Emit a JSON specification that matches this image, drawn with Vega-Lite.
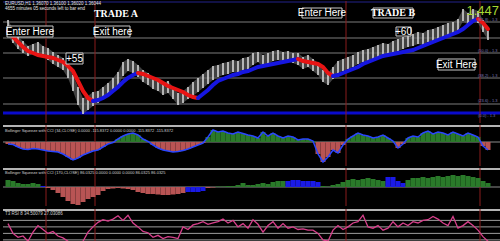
{
"$schema": "https://vega.github.io/schema/vega-lite/v6.json",
"background": "#000000",
"padding": 0,
"spacing": 0,
"config": {"view": {"stroke": null}, "concat": {"spacing": 0}},
"resolve": {"scale": {"color": "independent"}},
"datasets": {
"bars": [
{"t":0,"h":1.4385,"l":1.4305,"c":-20,"q":70,"s":"g","r":65},
{"t":1,"h":1.4340,"l":1.4270,"c":-25,"q":60,"s":"g","r":50},
{"t":2,"h":1.4300,"l":1.4240,"c":-50,"q":40,"s":"g","r":44},
{"t":3,"h":1.4280,"l":1.4220,"c":-70,"q":30,"s":"g","r":46},
{"t":4,"h":1.4255,"l":1.4205,"c":-75,"q":30,"s":"g","r":38},
{"t":5,"h":1.4265,"l":1.4215,"c":-65,"q":40,"s":"g","r":52},
{"t":6,"h":1.4275,"l":1.4215,"c":-70,"q":30,"s":"g","r":62},
{"t":7,"h":1.4255,"l":1.4205,"c":-80,"q":10,"s":"b","r":56},
{"t":8,"h":1.4245,"l":1.4185,"c":-90,"q":-10,"s":"r","r":50},
{"t":9,"h":1.4225,"l":1.4165,"c":-95,"q":-30,"s":"r","r":53},
{"t":10,"h":1.4210,"l":1.4150,"c":-100,"q":-60,"s":"r","r":46},
{"t":11,"h":1.4195,"l":1.4135,"c":-120,"q":-100,"s":"r","r":43},
{"t":12,"h":1.4165,"l":1.4095,"c":-150,"q":-140,"s":"r","r":38},
{"t":13,"h":1.4110,"l":1.4030,"c":-180,"q":-170,"s":"r","r":31},
{"t":14,"h":1.4050,"l":1.3960,"c":-160,"q":-180,"s":"r","r":27},
{"t":15,"h":1.3995,"l":1.3915,"c":-130,"q":-150,"s":"r","r":38},
{"t":16,"h":1.4005,"l":1.3935,"c":-110,"q":-120,"s":"r","r":52},
{"t":17,"h":1.4025,"l":1.3955,"c":-90,"q":-100,"s":"r","r":60},
{"t":18,"h":1.4030,"l":1.3970,"c":-80,"q":-80,"s":"r","r":67},
{"t":19,"h":1.4050,"l":1.3990,"c":-50,"q":-40,"s":"r","r":71},
{"t":20,"h":1.4070,"l":1.4010,"c":-20,"q":-20,"s":"r","r":69},
{"t":21,"h":1.4095,"l":1.4035,"c":-5,"q":-15,"s":"r","r":72},
{"t":22,"h":1.4125,"l":1.4055,"c":30,"q":-10,"s":"r","r":77},
{"t":23,"h":1.4175,"l":1.4105,"c":60,"q":-15,"s":"r","r":70},
{"t":24,"h":1.4190,"l":1.4130,"c":80,"q":-20,"s":"r","r":78},
{"t":25,"h":1.4180,"l":1.4120,"c":90,"q":-30,"s":"r","r":66},
{"t":26,"h":1.4160,"l":1.4100,"c":70,"q":-50,"s":"r","r":60},
{"t":27,"h":1.4135,"l":1.4075,"c":30,"q":-60,"s":"r","r":53},
{"t":28,"h":1.4120,"l":1.4060,"c":5,"q":-70,"s":"r","r":51},
{"t":29,"h":1.4100,"l":1.4040,"c":-30,"q":-70,"s":"r","r":44},
{"t":30,"h":1.4090,"l":1.4030,"c":-60,"q":-75,"s":"r","r":47},
{"t":31,"h":1.4070,"l":1.4010,"c":-80,"q":-80,"s":"r","r":42},
{"t":32,"h":1.4080,"l":1.4020,"c":-90,"q":-80,"s":"r","r":45},
{"t":33,"h":1.4050,"l":1.3990,"c":-100,"q":-75,"s":"r","r":44},
{"t":34,"h":1.4020,"l":1.3960,"c":-95,"q":-70,"s":"r","r":42},
{"t":35,"h":1.4030,"l":1.3970,"c":-85,"q":-60,"s":"r","r":60},
{"t":36,"h":1.4050,"l":1.3990,"c":-70,"q":-50,"s":"b","r":56},
{"t":37,"h":1.4075,"l":1.4005,"c":-50,"q":-50,"s":"b","r":63},
{"t":38,"h":1.4095,"l":1.4025,"c":-30,"q":-50,"s":"b","r":65},
{"t":39,"h":1.4115,"l":1.4045,"c":-10,"q":-40,"s":"b","r":68},
{"t":40,"h":1.4135,"l":1.4065,"c":50,"q":-10,"s":"r","r":64},
{"t":41,"h":1.4155,"l":1.4085,"c":120,"q":-5,"s":"r","r":66},
{"t":42,"h":1.4160,"l":1.4100,"c":100,"q":5,"s":"g","r":68},
{"t":43,"h":1.4170,"l":1.4110,"c":110,"q":5,"s":"g","r":72},
{"t":44,"h":1.4175,"l":1.4115,"c":90,"q":10,"s":"g","r":66},
{"t":45,"h":1.4185,"l":1.4125,"c":80,"q":10,"s":"g","r":70},
{"t":46,"h":1.4180,"l":1.4120,"c":100,"q":20,"s":"g","r":60},
{"t":47,"h":1.4195,"l":1.4135,"c":85,"q":40,"s":"g","r":65},
{"t":48,"h":1.4200,"l":1.4140,"c":70,"q":20,"s":"g","r":58},
{"t":49,"h":1.4220,"l":1.4160,"c":60,"q":20,"s":"g","r":71},
{"t":50,"h":1.4225,"l":1.4175,"c":40,"q":30,"s":"g","r":64},
{"t":51,"h":1.4210,"l":1.4150,"c":100,"q":40,"s":"g","r":52},
{"t":52,"h":1.4220,"l":1.4160,"c":60,"q":30,"s":"g","r":62},
{"t":53,"h":1.4230,"l":1.4180,"c":90,"q":50,"s":"g","r":68},
{"t":54,"h":1.4235,"l":1.4185,"c":60,"q":60,"s":"g","r":58},
{"t":55,"h":1.4225,"l":1.4175,"c":40,"q":60,"s":"g","r":65},
{"t":56,"h":1.4230,"l":1.4180,"c":60,"q":60,"s":"b","r":58},
{"t":57,"h":1.4220,"l":1.4170,"c":50,"q":70,"s":"b","r":60},
{"t":58,"h":1.4220,"l":1.4160,"c":20,"q":70,"s":"b","r":56},
{"t":59,"h":1.4200,"l":1.4140,"c":30,"q":60,"s":"b","r":57},
{"t":60,"h":1.4210,"l":1.4150,"c":30,"q":60,"s":"b","r":55},
{"t":61,"h":1.4190,"l":1.4130,"c":10,"q":60,"s":"b","r":55},
{"t":62,"h":1.4170,"l":1.4110,"c":-120,"q":50,"s":"b","r":50},
{"t":63,"h":1.4135,"l":1.4075,"c":-200,"q":10,"s":"g","r":40},
{"t":64,"h":1.4120,"l":1.4060,"c":-150,"q":5,"s":"g","r":38},
{"t":65,"h":1.4150,"l":1.4090,"c":-80,"q":20,"s":"g","r":55},
{"t":66,"h":1.4180,"l":1.4120,"c":-110,"q":30,"s":"g","r":62},
{"t":67,"h":1.4190,"l":1.4130,"c":-30,"q":50,"s":"g","r":56},
{"t":68,"h":1.4200,"l":1.4140,"c":30,"q":70,"s":"g","r":60},
{"t":69,"h":1.4210,"l":1.4150,"c":60,"q":80,"s":"g","r":66},
{"t":70,"h":1.4225,"l":1.4165,"c":90,"q":70,"s":"g","r":68},
{"t":71,"h":1.4235,"l":1.4175,"c":70,"q":80,"s":"g","r":78},
{"t":72,"h":1.4240,"l":1.4180,"c":60,"q":90,"s":"g","r":60},
{"t":73,"h":1.4250,"l":1.4190,"c":40,"q":80,"s":"g","r":58},
{"t":74,"h":1.4260,"l":1.4200,"c":50,"q":70,"s":"g","r":62},
{"t":75,"h":1.4270,"l":1.4210,"c":70,"q":60,"s":"g","r":55},
{"t":76,"h":1.4265,"l":1.4205,"c":40,"q":100,"s":"b","r":58},
{"t":77,"h":1.4280,"l":1.4220,"c":10,"q":100,"s":"b","r":68},
{"t":78,"h":1.4290,"l":1.4230,"c":-60,"q":60,"s":"b","r":60},
{"t":79,"h":1.4300,"l":1.4240,"c":-20,"q":40,"s":"b","r":66},
{"t":80,"h":1.4310,"l":1.4250,"c":40,"q":70,"s":"g","r":62},
{"t":81,"h":1.4315,"l":1.4255,"c":60,"q":90,"s":"g","r":68},
{"t":82,"h":1.4325,"l":1.4265,"c":50,"q":90,"s":"g","r":66},
{"t":83,"h":1.4320,"l":1.4260,"c":90,"q":100,"s":"g","r":70},
{"t":84,"h":1.4335,"l":1.4275,"c":110,"q":90,"s":"g","r":71},
{"t":85,"h":1.4340,"l":1.4280,"c":80,"q":100,"s":"g","r":76},
{"t":86,"h":1.4350,"l":1.4290,"c":100,"q":110,"s":"g","r":72},
{"t":87,"h":1.4360,"l":1.4300,"c":90,"q":100,"s":"g","r":66},
{"t":88,"h":1.4370,"l":1.4310,"c":70,"q":110,"s":"g","r":62},
{"t":89,"h":1.4375,"l":1.4315,"c":100,"q":120,"s":"g","r":76},
{"t":90,"h":1.4390,"l":1.4330,"c":80,"q":110,"s":"g","r":58},
{"t":91,"h":1.4440,"l":1.4380,"c":60,"q":120,"s":"g","r":62},
{"t":92,"h":1.4420,"l":1.4360,"c":90,"q":110,"s":"g","r":68},
{"t":93,"h":1.4440,"l":1.4380,"c":70,"q":100,"s":"g","r":62},
{"t":94,"h":1.4430,"l":1.4370,"c":50,"q":90,"s":"g","r":55},
{"t":95,"h":1.4385,"l":1.4325,"c":-40,"q":60,"s":"g","r":45},
{"t":96,"h":1.4345,"l":1.4285,"c":-80,"q":40,"s":"g","r":38}
],
"ma": [
{"t":0,"v":1.4330,"g":1,"d":"dn"},{"t":1,"v":1.4300,"g":1,"d":"dn"},{"t":2,"v":1.4275,"g":1,"d":"dn"},{"t":3,"v":1.4250,"g":1,"d":"dn"},{"t":4,"v":1.4230,"g":1,"d":"dn"},{"t":5,"v":1.4220,"g":1,"d":"dn"},{"t":6,"v":1.4210,"g":1,"d":"dn"},{"t":7,"v":1.4205,"g":1,"d":"dn"},{"t":8,"v":1.4200,"g":1,"d":"dn"},{"t":9,"v":1.4195,"g":1,"d":"dn"},{"t":10,"v":1.4185,"g":1,"d":"dn"},{"t":11,"v":1.4175,"g":1,"d":"dn"},{"t":12,"v":1.4155,"g":1,"d":"dn"},{"t":13,"v":1.4130,"g":1,"d":"dn"},{"t":14,"v":1.4080,"g":1,"d":"dn"},{"t":15,"v":1.4030,"g":1,"d":"dn"},{"t":16,"v":1.3995,"g":1,"d":"dn"},{"t":17,"v":1.3980,"g":1,"d":"dn"},
{"t":17,"v":1.3980,"g":2,"d":"up"},{"t":18,"v":1.3985,"g":2,"d":"up"},{"t":19,"v":1.3995,"g":2,"d":"up"},{"t":20,"v":1.4010,"g":2,"d":"up"},{"t":21,"v":1.4030,"g":2,"d":"up"},{"t":22,"v":1.4050,"g":2,"d":"up"},{"t":23,"v":1.4075,"g":2,"d":"up"},{"t":24,"v":1.4095,"g":2,"d":"up"},{"t":25,"v":1.4110,"g":2,"d":"up"},{"t":26,"v":1.4120,"g":2,"d":"up"},
{"t":26,"v":1.4120,"g":3,"d":"dn"},{"t":27,"v":1.4115,"g":3,"d":"dn"},{"t":28,"v":1.4105,"g":3,"d":"dn"},{"t":29,"v":1.4095,"g":3,"d":"dn"},{"t":30,"v":1.4085,"g":3,"d":"dn"},{"t":31,"v":1.4070,"g":3,"d":"dn"},{"t":32,"v":1.4055,"g":3,"d":"dn"},{"t":33,"v":1.4045,"g":3,"d":"dn"},{"t":34,"v":1.4035,"g":3,"d":"dn"},{"t":35,"v":1.4025,"g":3,"d":"dn"},{"t":36,"v":1.4010,"g":3,"d":"dn"},{"t":37,"v":1.4000,"g":3,"d":"dn"},{"t":38,"v":1.3995,"g":3,"d":"dn"},
{"t":38,"v":1.3995,"g":4,"d":"up"},{"t":39,"v":1.4015,"g":4,"d":"up"},{"t":40,"v":1.4035,"g":4,"d":"up"},{"t":41,"v":1.4060,"g":4,"d":"up"},{"t":42,"v":1.4080,"g":4,"d":"up"},{"t":43,"v":1.4090,"g":4,"d":"up"},{"t":44,"v":1.4100,"g":4,"d":"up"},{"t":45,"v":1.4110,"g":4,"d":"up"},{"t":46,"v":1.4115,"g":4,"d":"up"},{"t":47,"v":1.4125,"g":4,"d":"up"},{"t":48,"v":1.4130,"g":4,"d":"up"},{"t":49,"v":1.4140,"g":4,"d":"up"},{"t":50,"v":1.4150,"g":4,"d":"up"},{"t":51,"v":1.4155,"g":4,"d":"up"},{"t":52,"v":1.4160,"g":4,"d":"up"},{"t":53,"v":1.4165,"g":4,"d":"up"},{"t":54,"v":1.4170,"g":4,"d":"up"},{"t":55,"v":1.4175,"g":4,"d":"up"},{"t":56,"v":1.4180,"g":4,"d":"up"},{"t":57,"v":1.4185,"g":4,"d":"up"},{"t":58,"v":1.4190,"g":4,"d":"up"},
{"t":58,"v":1.4190,"g":5,"d":"dn"},{"t":59,"v":1.4180,"g":5,"d":"dn"},{"t":60,"v":1.4175,"g":5,"d":"dn"},{"t":61,"v":1.4170,"g":5,"d":"dn"},{"t":62,"v":1.4165,"g":5,"d":"dn"},{"t":63,"v":1.4150,"g":5,"d":"dn"},{"t":64,"v":1.4120,"g":5,"d":"dn"},{"t":65,"v":1.4105,"g":5,"d":"dn"},
{"t":65,"v":1.4105,"g":6,"d":"up"},{"t":66,"v":1.4110,"g":6,"d":"up"},{"t":67,"v":1.4120,"g":6,"d":"up"},{"t":68,"v":1.4130,"g":6,"d":"up"},{"t":69,"v":1.4140,"g":6,"d":"up"},{"t":70,"v":1.4150,"g":6,"d":"up"},{"t":71,"v":1.4165,"g":6,"d":"up"},{"t":72,"v":1.4175,"g":6,"d":"up"},{"t":73,"v":1.4185,"g":6,"d":"up"},{"t":74,"v":1.4195,"g":6,"d":"up"},{"t":75,"v":1.4205,"g":6,"d":"up"},{"t":76,"v":1.4210,"g":6,"d":"up"},{"t":77,"v":1.4215,"g":6,"d":"up"},{"t":78,"v":1.4220,"g":6,"d":"up"},{"t":79,"v":1.4225,"g":6,"d":"up"},{"t":80,"v":1.4230,"g":6,"d":"up"},{"t":81,"v":1.4235,"g":6,"d":"up"},{"t":82,"v":1.4245,"g":6,"d":"up"},{"t":83,"v":1.4255,"g":6,"d":"up"},{"t":84,"v":1.4265,"g":6,"d":"up"},{"t":85,"v":1.4275,"g":6,"d":"up"},{"t":86,"v":1.4285,"g":6,"d":"up"},{"t":87,"v":1.4295,"g":6,"d":"up"},{"t":88,"v":1.4305,"g":6,"d":"up"},{"t":89,"v":1.4315,"g":6,"d":"up"},{"t":90,"v":1.4325,"g":6,"d":"up"},{"t":91,"v":1.4340,"g":6,"d":"up"},{"t":92,"v":1.4360,"g":6,"d":"up"},{"t":93,"v":1.4380,"g":6,"d":"up"},{"t":94,"v":1.4390,"g":6,"d":"up"},
{"t":94,"v":1.4390,"g":7,"d":"dn"},{"t":95,"v":1.4370,"g":7,"d":"dn"},{"t":96,"v":1.4340,"g":7,"d":"dn"}
],
"vl": [{"t":7.6},{"t":17.4},{"t":67.6},{"t":94.4}],
"fib": [
{"p":1.4375,"lp":1.4384,"lab":"(61.8) - 1.3"},
{"p":1.4295,"lp":1.4315,"lab":""},
{"p":1.4220,"lp":1.4232,"lab":"(50.0) - 1.3"},
{"p":1.4095,"lp":1.4107,"lab":"(38.2) - 1.3"},
{"p":1.3965,"lp":1.3982,"lab":"(23.6) - 1.3"}
],
"boxes": [
{"t1":-0.2,"t2":9.0,"p1":1.4355,"p2":1.4300},
{"t1":17.4,"t2":24.4,"p1":1.4355,"p2":1.4300},
{"t1":11.6,"t2":15.0,"p1":1.4220,"p2":1.4165},
{"t1":58.8,"t2":66.8,"p1":1.4445,"p2":1.4395},
{"t1":73.0,"t2":81.0,"p1":1.4445,"p2":1.4395},
{"t1":77.6,"t2":80.6,"p1":1.4350,"p2":1.4305},
{"t1":86.0,"t2":93.4,"p1":1.4190,"p2":1.4135}
],
"notes": [
{"t":4.4,"p":1.43275,"txt":"Enter Here"},
{"t":20.9,"p":1.43275,"txt":"Exit here"},
{"t":13.3,"p":1.41925,"txt":"+55"},
{"t":62.8,"p":1.4420,"txt":"Enter Here"},
{"t":79.1,"p":1.43275,"txt":"+60"},
{"t":89.7,"p":1.41625,"txt":"Exit Here"}
],
"trades": [
{"t":21.6,"p":1.44175,"txt":"TRADE A"},
{"t":77.0,"p":1.4420,"txt":"TRADE B"}
]
},
"vconcat": [
{
"width": 500, "height": 122,
"layer": [
{"data":{"name":"fib"},"mark":{"type":"rule","color":"#7c7c7c","strokeWidth":1},
 "encoding":{"y":{"field":"p","type":"quantitative","scale":{"domain":[1.387,1.448],"nice":false,"zero":false},"axis":null}}},
{"data":{"values":[{"p":1.392}]},"mark":{"type":"rule","color":"#0a0acc","strokeWidth":3},
 "encoding":{"y":{"field":"p","type":"quantitative","scale":{"domain":[1.387,1.448],"nice":false,"zero":false},"axis":null}}},
{"data":{"values":[{"p":1.4475}]},"mark":{"type":"rule","color":"#22228a","strokeWidth":1},
 "encoding":{"y":{"field":"p","type":"quantitative","scale":{"domain":[1.387,1.448],"nice":false,"zero":false},"axis":null}}},
{"data":{"name":"vl"},"mark":{"type":"rule","color":"#8a1c1c","strokeWidth":1},
 "encoding":{"x":{"field":"t","type":"quantitative","scale":{"domain":[-1,99],"nice":false,"zero":false},"axis":null}}},
{"data":{"name":"bars"},"mark":{"type":"area","color":"#5c5c5c","opacity":0.7},
 "encoding":{"x":{"field":"t","type":"quantitative","scale":{"domain":[-1,99],"nice":false,"zero":false},"axis":null},
  "y":{"field":"h","type":"quantitative","scale":{"domain":[1.387,1.448],"nice":false,"zero":false},"axis":null},
  "y2":{"field":"l"}}},
{"data":{"name":"bars"},"mark":{"type":"rule","color":"#dcdcdc","strokeWidth":1.5},
 "encoding":{"x":{"field":"t","type":"quantitative","scale":{"domain":[-1,99],"nice":false,"zero":false},"axis":null},
  "y":{"field":"h","type":"quantitative","scale":{"domain":[1.387,1.448],"nice":false,"zero":false},"axis":null},
  "y2":{"field":"l"}}},
{"data":{"name":"ma"},"mark":{"type":"line","strokeWidth":4,"strokeCap":"round"},
 "encoding":{"x":{"field":"t","type":"quantitative","scale":{"domain":[-1,99],"nice":false,"zero":false},"axis":null},
  "y":{"field":"v","type":"quantitative","scale":{"domain":[1.387,1.448],"nice":false,"zero":false},"axis":null},
  "color":{"field":"d","type":"nominal","scale":{"domain":["dn","up"],"range":["#e81414","#1616e0"]},"legend":null},
  "detail":{"field":"g","type":"nominal"}}},
{"data":{"name":"boxes"},"mark":{"type":"rect","fill":"#000000","stroke":"#c8c8c8","strokeWidth":1},
 "encoding":{"x":{"field":"t1","type":"quantitative","scale":{"domain":[-1,99],"nice":false,"zero":false},"axis":null},"x2":{"field":"t2"},
  "y":{"field":"p1","type":"quantitative","scale":{"domain":[1.387,1.448],"nice":false,"zero":false},"axis":null},"y2":{"field":"p2"}}},
{"data":{"name":"notes"},"mark":{"type":"text","color":"#ffffff","font":"Liberation Sans","fontSize":10,"baseline":"middle","align":"center"},
 "encoding":{"x":{"field":"t","type":"quantitative","scale":{"domain":[-1,99],"nice":false,"zero":false},"axis":null},
  "y":{"field":"p","type":"quantitative","scale":{"domain":[1.387,1.448],"nice":false,"zero":false},"axis":null},
  "text":{"field":"txt"}}},
{"data":{"name":"trades"},"mark":{"type":"text","color":"#ffffff","font":"Liberation Serif","fontWeight":"bold","fontSize":10,"baseline":"middle","align":"center"},
 "encoding":{"x":{"field":"t","type":"quantitative","scale":{"domain":[-1,99],"nice":false,"zero":false},"axis":null},
  "y":{"field":"p","type":"quantitative","scale":{"domain":[1.387,1.448],"nice":false,"zero":false},"axis":null},
  "text":{"field":"txt"}}},
{"data":{"name":"fib"},"mark":{"type":"text","color":"#7878b8","font":"Liberation Sans","fontSize":4,"baseline":"middle","align":"left"},
 "encoding":{"x":{"datum":94,"type":"quantitative","scale":{"domain":[-1,99],"nice":false,"zero":false},"axis":null},
  "y":{"field":"lp","type":"quantitative","scale":{"domain":[1.387,1.448],"nice":false,"zero":false},"axis":null},
  "text":{"field":"lab"}}},
{"data":{"values":[{"t":94,"p":1.3905,"txt":"(0.0) - 1.3"}]},"mark":{"type":"text","color":"#7878b8","font":"Liberation Sans","fontSize":4,"baseline":"middle","align":"left"},
 "encoding":{"x":{"field":"t","type":"quantitative","scale":{"domain":[-1,99],"nice":false,"zero":false},"axis":null},
  "y":{"field":"p","type":"quantitative","scale":{"domain":[1.387,1.448],"nice":false,"zero":false},"axis":null},
  "text":{"field":"txt"}}},
{"data":{"values":[{"t":98.2,"p":1.4430,"txt":"1.447"}]},"mark":{"type":"text","color":"#a6d832","font":"Liberation Sans","fontSize":13,"baseline":"middle","align":"right"},
 "encoding":{"x":{"field":"t","type":"quantitative","scale":{"domain":[-1,99],"nice":false,"zero":false},"axis":null},
  "y":{"field":"p","type":"quantitative","scale":{"domain":[1.387,1.448],"nice":false,"zero":false},"axis":null},
  "text":{"field":"txt"}}},
{"data":{"values":[{"t":-0.6,"p":1.4465,"txt":"EURUSD,H1  1.36070 1.36100 1.36020 1.36044"},{"t":-0.6,"p":1.4442,"txt":"4655 minutes 05 seconds left to bar end"}]},
 "mark":{"type":"text","color":"#e8e8e8","font":"Liberation Sans","fontSize":4.5,"baseline":"middle","align":"left"},
 "encoding":{"x":{"field":"t","type":"quantitative","scale":{"domain":[-1,99],"nice":false,"zero":false},"axis":null},
  "y":{"field":"p","type":"quantitative","scale":{"domain":[1.387,1.448],"nice":false,"zero":false},"axis":null},
  "text":{"field":"txt"}}}
]
},
{
"width": 500, "height": 41,
"layer": [
{"data":{"values":[{"v":160}]},"mark":{"type":"rule","color":"#b4b4b4","strokeWidth":2},
 "encoding":{"y":{"field":"v","type":"quantitative","scale":{"domain":[-240,170],"nice":false,"zero":false},"axis":null}}},
{"data":{"values":[{"v":0}]},"mark":{"type":"rule","color":"#8c8c8c","strokeWidth":1},
 "encoding":{"y":{"field":"v","type":"quantitative","scale":{"domain":[-240,170],"nice":false,"zero":false},"axis":null}}},
{"data":{"name":"vl"},"mark":{"type":"rule","color":"#8a1c1c","strokeWidth":1},
 "encoding":{"x":{"field":"t","type":"quantitative","scale":{"domain":[-1,99],"nice":false,"zero":false},"axis":null}}},
{"data":{"name":"bars"},"mark":{"type":"rule","strokeWidth":5},
 "encoding":{"x":{"field":"t","type":"quantitative","scale":{"domain":[-1,99],"nice":false,"zero":false},"axis":null},
  "y":{"field":"c","type":"quantitative","scale":{"domain":[-240,170],"nice":false,"zero":false},"axis":null},
  "y2":{"datum":0},
  "color":{"condition":{"test":"datum.c >= 0","value":"#2a7a2a"},"value":"#b85454"}}},
{"data":{"name":"bars"},"mark":{"type":"line","color":"#2a46ff","strokeWidth":1.5},
 "encoding":{"x":{"field":"t","type":"quantitative","scale":{"domain":[-1,99],"nice":false,"zero":false},"axis":null},
  "y":{"field":"c","type":"quantitative","scale":{"domain":[-240,170],"nice":false,"zero":false},"axis":null}}},
{"data":{"values":[{"t":-0.6,"v":110,"txt":"Bollinger Squeeze with CCI (34,CLOSE) 0.0000 -115.8372 0.0000 0.0000 -115.8372 -115.8372"}]},
 "mark":{"type":"text","color":"#d0d0d0","font":"Liberation Sans","fontSize":4,"baseline":"middle","align":"left"},
 "encoding":{"x":{"field":"t","type":"quantitative","scale":{"domain":[-1,99],"nice":false,"zero":false},"axis":null},
  "y":{"field":"v","type":"quantitative","scale":{"domain":[-240,170],"nice":false,"zero":false},"axis":null},
  "text":{"field":"txt"}}}
]
},
{
"width": 500, "height": 38,
"layer": [
{"data":{"values":[{"v":180}]},"mark":{"type":"rule","color":"#b4b4b4","strokeWidth":2},
 "encoding":{"y":{"field":"v","type":"quantitative","scale":{"domain":[-190,190],"nice":false,"zero":false},"axis":null}}},
{"data":{"values":[{"v":0}]},"mark":{"type":"rule","color":"#8c8c8c","strokeWidth":1},
 "encoding":{"y":{"field":"v","type":"quantitative","scale":{"domain":[-190,190],"nice":false,"zero":false},"axis":null}}},
{"data":{"name":"vl"},"mark":{"type":"rule","color":"#8a1c1c","strokeWidth":1},
 "encoding":{"x":{"field":"t","type":"quantitative","scale":{"domain":[-1,99],"nice":false,"zero":false},"axis":null}}},
{"data":{"name":"bars"},"mark":{"type":"rule","strokeWidth":5},
 "encoding":{"x":{"field":"t","type":"quantitative","scale":{"domain":[-1,99],"nice":false,"zero":false},"axis":null},
  "y":{"field":"q","type":"quantitative","scale":{"domain":[-190,190],"nice":false,"zero":false},"axis":null},
  "y2":{"datum":0},
  "color":{"field":"s","type":"nominal","scale":{"domain":["g","b","r"],"range":["#2a7a2a","#1a1ae6","#b85454"]},"legend":null}}},
{"data":{"values":[{"t":-0.6,"v":140,"txt":"Bollinger Squeeze with CCI (170,CLOSE) 86.0325 0.0000 0.0000 0.0000 86.0325 86.0325"}]},
 "mark":{"type":"text","color":"#d0d0d0","font":"Liberation Sans","fontSize":4,"baseline":"middle","align":"left"},
 "encoding":{"x":{"field":"t","type":"quantitative","scale":{"domain":[-1,99],"nice":false,"zero":false},"axis":null},
  "y":{"field":"v","type":"quantitative","scale":{"domain":[-190,190],"nice":false,"zero":false},"axis":null},
  "text":{"field":"txt"}}}
]
},
{
"width": 500, "height": 40,
"layer": [
{"data":{"values":[{"v":86}]},"mark":{"type":"rule","color":"#b4b4b4","strokeWidth":2},
 "encoding":{"y":{"field":"v","type":"quantitative","scale":{"domain":[26,87.5],"nice":false,"zero":false},"axis":null}}},
{"data":{"values":[{"v":40},{"v":50},{"v":60},{"v":70}]},"mark":{"type":"rule","color":"#9c9c9c","strokeWidth":1},
 "encoding":{"y":{"field":"v","type":"quantitative","scale":{"domain":[26,87.5],"nice":false,"zero":false},"axis":null}}},
{"data":{"values":[{"v":27.5}]},"mark":{"type":"rule","color":"#2a2ab4","strokeWidth":2},
 "encoding":{"y":{"field":"v","type":"quantitative","scale":{"domain":[26,87.5],"nice":false,"zero":false},"axis":null}}},
{"data":{"name":"vl"},"mark":{"type":"rule","color":"#8a1c1c","strokeWidth":1},
 "encoding":{"x":{"field":"t","type":"quantitative","scale":{"domain":[-1,99],"nice":false,"zero":false},"axis":null}}},
{"data":{"name":"bars"},"mark":{"type":"line","color":"#d8408c","strokeWidth":1.3},
 "encoding":{"x":{"field":"t","type":"quantitative","scale":{"domain":[-1,99],"nice":false,"zero":false},"axis":null},
  "y":{"field":"r","type":"quantitative","scale":{"domain":[26,87.5],"nice":false,"zero":false},"axis":null}}},
{"data":{"values":[{"t":-0.6,"v":80,"txt":"T3 RSI 8 34.50079 27.03086"}]},
 "mark":{"type":"text","color":"#d0d0d0","font":"Liberation Sans","fontSize":4.5,"baseline":"middle","align":"left"},
 "encoding":{"x":{"field":"t","type":"quantitative","scale":{"domain":[-1,99],"nice":false,"zero":false},"axis":null},
  "y":{"field":"v","type":"quantitative","scale":{"domain":[26,87.5],"nice":false,"zero":false},"axis":null},
  "text":{"field":"txt"}}}
]
}
]
}
